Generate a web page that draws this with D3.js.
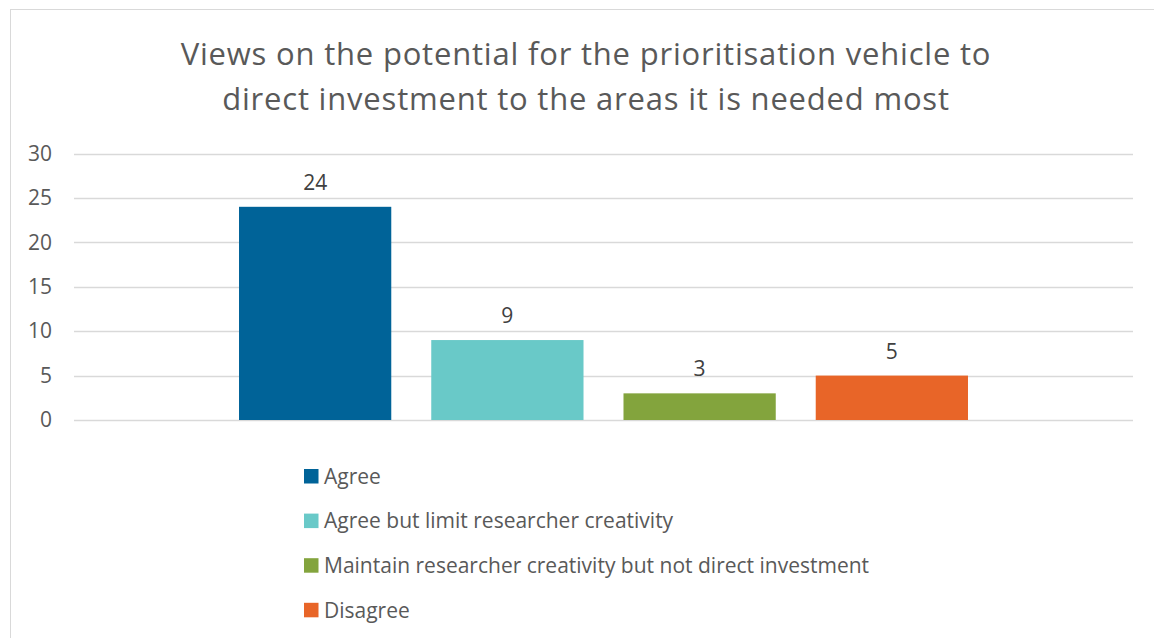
<!DOCTYPE html>
<html>
<head>
<meta charset="utf-8">
<script src="https://cdn.jsdelivr.net/npm/d3@7"></script>
<style>
  html, body { margin: 0; padding: 0; background: #fff; }
  svg { display: block; }
  text { font-family: "Open Sans", "Noto Sans", sans-serif; }
</style>
</head>
<body>
<svg id="chart" width="1154" height="638"></svg>
<script>
// Survey responses
const titleLines = [
  "Views on the potential for the prioritisation vehicle to",
  "direct investment to the areas it is needed most"
];
const categories = ["Responses"];
const seriesNames = [
  "Agree",
  "Agree but limit researcher creativity",
  "Maintain researcher creativity but not direct investment",
  "Disagree"
];
const seriesValues = [24, 9, 3, 5];
const seriesColors = ["#006398", "#69C9C8", "#83A43D", "#E86528"];
const yTicks = [0, 5, 10, 15, 20, 25, 30];

const svg = d3.select("#chart");
const W = 1154, H = 638;
const plot = { left: 74, right: 1133, top: 153.5, bottom: 420 };
const textColor = "#595959";
const labelSize = 21;

// chart frame
svg.append("rect")
  .attr("x", 10.5).attr("y", 9.5)
  .attr("width", W + 20).attr("height", H + 20)
  .attr("fill", "#fff").attr("stroke", "#d9d9d9").attr("stroke-width", 1);

// title
svg.append("g").selectAll("text").data(titleLines).join("text")
  .attr("x", 586).attr("y", (d, i) => 65 + i * 45)
  .attr("text-anchor", "middle")
  .attr("font-size", 31)
  .attr("letter-spacing", 0.8)
  .attr("fill", textColor)
  .text(d => d);

// scales
const y = d3.scaleLinear().domain([0, 30]).range([plot.bottom, plot.top]);
const x0 = d3.scaleBand().domain(categories).range([plot.left, plot.right]).paddingOuter(0.1886).paddingInner(0);
const x1 = d3.scaleBand().domain(seriesNames).range([0, x0.bandwidth()]).paddingInner(0.208).paddingOuter(0.104);

// gridlines
svg.append("g").selectAll("line").data(yTicks).join("line")
  .attr("x1", plot.left).attr("x2", plot.right)
  .attr("y1", d => Math.round(y(d)) + 0.5).attr("y2", d => Math.round(y(d)) + 0.5)
  .attr("stroke", "#d9d9d9").attr("stroke-width", 1.3);

// y axis labels
const yAxis = d3.axisLeft(y).tickValues(yTicks).tickSize(0).tickPadding(0);
const ya = svg.append("g").attr("transform", `translate(52,0)`).call(yAxis);
ya.select(".domain").remove();
ya.selectAll("text")
  .attr("font-size", labelSize)
  .attr("fill", textColor)
  .attr("font-family", "'Open Sans', 'Noto Sans', sans-serif");

// bars
const rows = seriesNames.map((s, i) => ({ name: s, value: seriesValues[i], color: seriesColors[i] }));
const g = svg.append("g").attr("transform", `translate(${x0(categories[0])},0)`);
g.selectAll("rect").data(rows).join("rect")
  .attr("x", d => x1(d.name))
  .attr("y", d => y(d.value))
  .attr("width", x1.bandwidth())
  .attr("height", d => y(0) - y(d.value))
  .attr("fill", d => d.color);

// value labels
g.selectAll("text.val").data(rows).join("text")
  .attr("class", "val")
  .attr("x", d => x1(d.name) + x1.bandwidth() / 2)
  .attr("y", d => y(d.value) - 17)
  .attr("text-anchor", "middle")
  .attr("font-size", labelSize)
  .attr("fill", "#404040")
  .text(d => d.value);

// legend
const legend = svg.append("g").attr("transform", "translate(304,0)");
const li = legend.selectAll("g").data(rows).join("g")
  .attr("transform", (d, i) => `translate(0,${476.5 + i * 44.6})`);
li.append("rect")
  .attr("x", 0).attr("y", -7.5).attr("width", 14.5).attr("height", 14.5)
  .attr("fill", d => d.color);
li.append("text")
  .attr("x", 20).attr("y", 0).attr("dy", "0.35em")
  .attr("font-size", labelSize)
  .attr("fill", textColor)
  .text(d => d.name);
</script>
</body>
</html>
